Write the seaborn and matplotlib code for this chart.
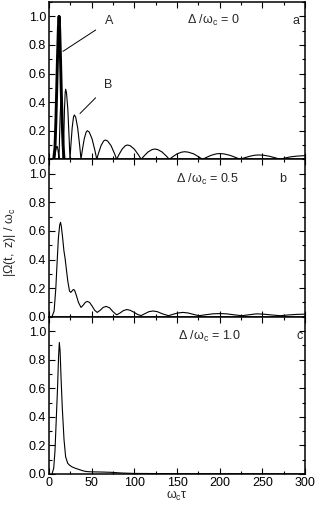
import numpy as np
import pandas as pd
import matplotlib
matplotlib.use("Agg")
import matplotlib.pyplot as plt
import seaborn as sns
from matplotlib.ticker import MultipleLocator

# ---------------- data ----------------
# panel a, curve A (thick)
a_x = [5.5, 7.0, 8.0, 9.0, 10.0, 11.0, 11.8, 12.6, 13.5, 14.5, 15.5, 16.5, 17.6]
a_y = [0.0, 0.08, 0.25, 0.48, 0.72, 0.92, 1.0, 0.90, 0.70, 0.45, 0.25, 0.10, 0.0]

# panel a, curve B (thin, lobed)
b_x = [5.0, 6.5, 7.1, 7.95, 8.8, 9.4, 9.86, 10.55, 11.24, 11.7,
       12.24, 13.05, 13.86, 14.4, 14.88, 15.6, 16.32, 16.8,
       17.34, 18.15, 18.96, 19.5, 20.52, 22.05, 23.58, 24.6,
       25.62, 27.15, 28.68, 29.7, 31.26, 33.6, 35.94, 37.5,
       39.0, 41.25, 43.5, 45.0, 47.2, 50.5, 53.8, 56.0,
       58.0, 61.0, 64.0, 66.0, 68.66, 72.65, 76.64, 79.3,
       81.84, 85.65, 89.46, 92.0, 95.2, 100.0, 104.8, 108.0,
       111.2, 116.0, 120.8, 124.0, 127.4, 132.5, 137.6, 141.0,
       144.6, 150.0, 155.4, 159.0, 163.2, 169.5, 175.8, 180.0,
       184.0, 190.0, 196.0, 200.0, 204.8, 212.0, 219.2, 224.0,
       228.4, 235.0, 241.6, 246.0, 251.0, 258.5, 266.0, 271.0,
       275.8, 283.0, 290.0, 300.0]
b_y = [0.0, 0.0, 0.028, 0.064, 0.086, 0.09, 0.086, 0.064, 0.028, 0.0,
       0.13, 0.30, 0.40, 0.42, 0.40, 0.30, 0.13, 0.0,
       0.15, 0.35, 0.465, 0.49, 0.465, 0.35, 0.15, 0.0,
       0.096, 0.22, 0.295, 0.31, 0.295, 0.22, 0.096, 0.0,
       0.062, 0.142, 0.19, 0.20, 0.19, 0.142, 0.062, 0.0,
       0.042, 0.096, 0.128, 0.135, 0.128, 0.096, 0.042, 0.0,
       0.031, 0.071, 0.095, 0.10, 0.095, 0.071, 0.031, 0.0,
       0.022, 0.051, 0.068, 0.072, 0.068, 0.051, 0.022, 0.0,
       0.016, 0.038, 0.050, 0.053, 0.050, 0.038, 0.016, 0.0,
       0.012, 0.028, 0.038, 0.040, 0.038, 0.028, 0.012, 0.0,
       0.009, 0.021, 0.029, 0.030, 0.029, 0.021, 0.009, 0.0,
       0.008, 0.017, 0.022, 0.026]

# panel b
c_x = [3.5, 6, 8, 9.5, 11, 12.5, 13.5, 14.5, 16, 17.5, 18.8, 20, 22, 24, 25.5,
       27, 28.5, 30, 32, 34.5, 37.5, 40, 42.5, 45, 47.5, 50.5, 53.5, 56.5, 60,
       63.5, 67, 71, 75, 79.3, 83, 87, 91, 95, 100, 104, 108, 112, 117, 122,
       127, 133, 140, 146, 151, 157, 163, 170, 176, 184, 192, 200, 208, 217,
       226, 234, 243, 251, 261, 271, 280, 290, 300]
c_y = [0.0, 0.04, 0.2, 0.38, 0.55, 0.64, 0.66, 0.63, 0.55, 0.46, 0.41, 0.35,
       0.25, 0.18, 0.17, 0.18, 0.19, 0.185, 0.15, 0.10, 0.065, 0.08, 0.10,
       0.107, 0.10, 0.075, 0.045, 0.03, 0.045, 0.065, 0.072, 0.062, 0.035,
       0.013, 0.025, 0.042, 0.05, 0.045, 0.03, 0.015, 0.008, 0.02, 0.035,
       0.04, 0.035, 0.02, 0.007, 0.018, 0.026, 0.03, 0.026, 0.015, 0.007,
       0.014, 0.02, 0.022, 0.02, 0.013, 0.007, 0.013, 0.02, 0.018, 0.012,
       0.007, 0.012, 0.016, 0.018]

# panel c
d_x = [3.5, 5.5, 7, 8.5, 10, 11.2, 12.1, 13, 14.2, 15.6, 17.6, 19.5, 21.9, 24,
       26.6, 30, 34.4, 40, 44, 50, 60, 72, 85, 100, 130, 170, 230, 300]
d_y = [0.0, 0.04, 0.16, 0.38, 0.60, 0.82, 0.92, 0.86, 0.66, 0.46, 0.24, 0.12,
       0.075, 0.062, 0.051, 0.042, 0.033, 0.022, 0.017, 0.015, 0.014, 0.012,
       0.007, 0.004, 0.003, 0.002, 0.002, 0.001]

x_ticks = [0, 50, 100, 150, 200, 250, 300]
y_ticks = [0.0, 0.2, 0.4, 0.6, 0.8, 1.0]
panel_labels = ["a", "b", "c"]
delta_labels = ["0", "0.5", "1.0"]

# ---------------- style ----------------
sns.set_theme(style="ticks")
plt.rcParams["font.family"] = ["Liberation Sans", "DejaVu Sans"]
plt.rcParams["mathtext.fontset"] = "custom"
plt.rcParams["mathtext.rm"] = "Liberation Sans"
plt.rcParams["mathtext.it"] = "Liberation Sans"
plt.rcParams["mathtext.bf"] = "Liberation Sans:bold"
plt.rcParams["mathtext.sf"] = "Liberation Sans"
plt.rcParams["axes.linewidth"] = 1.1
plt.rcParams["axes.edgecolor"] = "black"

fig = plt.figure(figsize=(3.2, 5.13), dpi=100)
left, width = 49 / 320, 256 / 320
h = 157.3 / 513
bottoms = [1 - 159.3 / 513, 1 - 316.7 / 513, 1 - 474 / 513]
axes = [fig.add_axes([left, b, width, h]) for b in bottoms]

dfA = pd.DataFrame({"x": a_x, "y": a_y})
dfB = pd.DataFrame({"x": b_x, "y": b_y})
dfC = pd.DataFrame({"x": c_x, "y": c_y})
dfD = pd.DataFrame({"x": d_x, "y": d_y})

sns.lineplot(data=dfB, x="x", y="y", ax=axes[0], color="black", lw=0.8,
             estimator=None, sort=False)
sns.lineplot(data=dfA, x="x", y="y", ax=axes[0], color="black", lw=2.1,
             estimator=None, sort=False)
sns.lineplot(data=dfC, x="x", y="y", ax=axes[1], color="black", lw=0.8,
             estimator=None, sort=False)
sns.lineplot(data=dfD, x="x", y="y", ax=axes[2], color="black", lw=0.8,
             estimator=None, sort=False)

fs = 9
for i, ax in enumerate(axes):
    ax.set_xlim(0, 300)
    ax.set_ylim(0, 1.1)
    ax.set_xticks(x_ticks)
    ax.set_yticks(y_ticks)
    ax.set_yticklabels([f"{v:.1f}" for v in y_ticks])
    ax.xaxis.set_minor_locator(MultipleLocator(25))
    ax.yaxis.set_minor_locator(MultipleLocator(0.1))
    ax.tick_params(which="both", direction="in", top=True, right=True,
                   colors="black", labelsize=fs, width=0.8)
    ax.tick_params(which="major", length=4, pad=2)
    ax.tick_params(which="minor", length=2)
    ax.set_xlabel("")
    ax.set_ylabel("")
    if i < 2:
        ax.tick_params(labelbottom=False)
    for s in ax.spines.values():
        s.set_color("black")
    ax.text(x=[162, 149, 151][i], y=[0.97, 0.96, 0.965][i],
            s=r"$\Delta$ /$\omega_{\rm c}$ = " + delta_labels[i],
            fontsize=fs, va="center", ha="left")
    ax.text(x=[290, 274, 294][i], y=[0.97, 0.96, 0.965][i],
            s=panel_labels[i], fontsize=fs, va="center", ha="center")

axes[2].set_xticklabels([str(v) for v in x_ticks])
axes[2].set_xlabel(r"$\omega_{\rm c}\tau$", fontsize=fs, labelpad=0)

axes[0].annotate("A", xy=(16.4, 0.755), xytext=(70.3, 0.965),
                 fontsize=fs, ha="center", va="center",
                 arrowprops=dict(arrowstyle="-", color="black", lw=0.7,
                                 shrinkA=5, shrinkB=0))
axes[0].annotate("B", xy=(36.3, 0.32), xytext=(69.1, 0.517),
                 fontsize=fs, ha="center", va="center",
                 arrowprops=dict(arrowstyle="-", color="black", lw=0.7,
                                 shrinkA=5, shrinkB=0))

fig.text(0.03, 1 - 242 / 513, r"$|\Omega(t,\ z)|\ /\ \omega_{\rm c}$",
         rotation=90, va="center", ha="center", fontsize=fs)

fig.savefig("out.png", dpi=100, facecolor="white")
